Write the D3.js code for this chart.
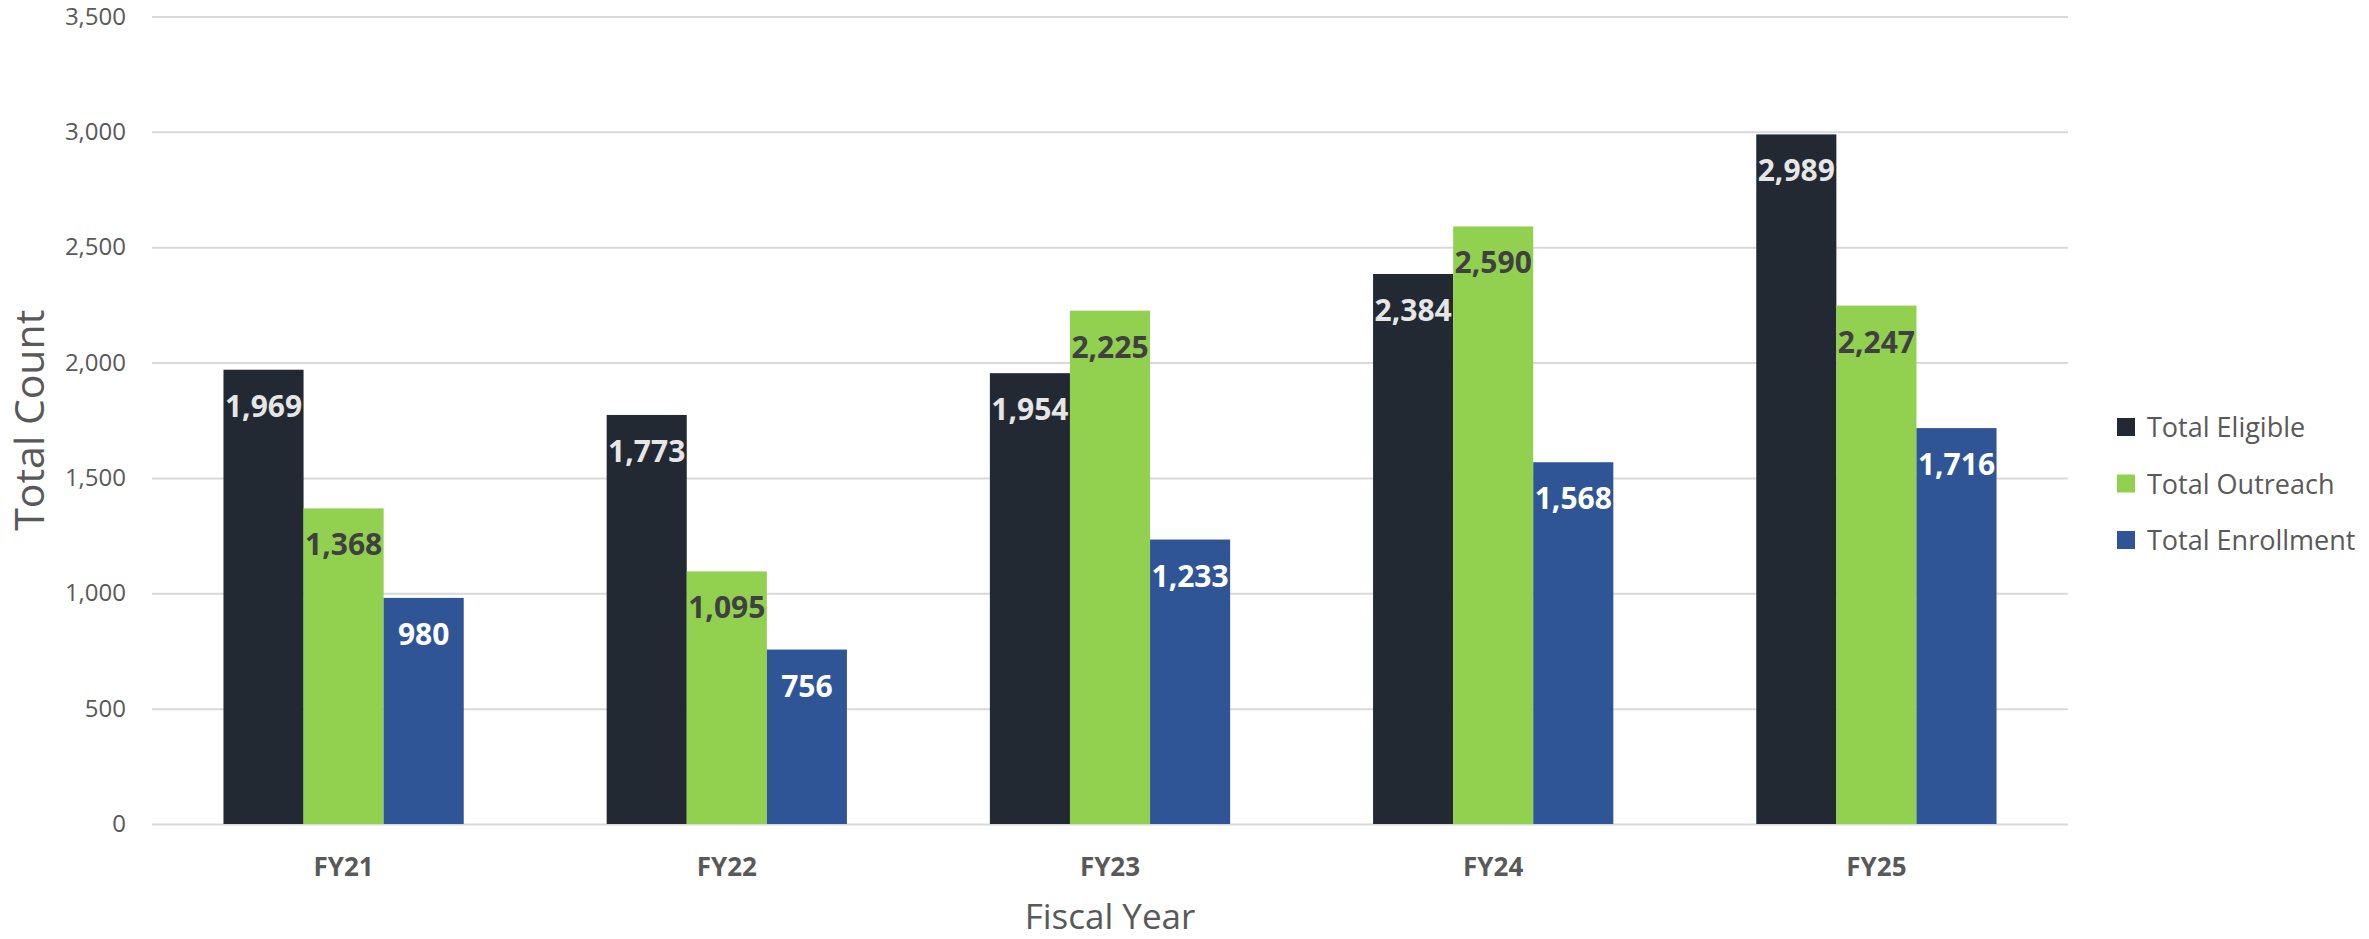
<!DOCTYPE html>
<html>
<head>
<meta charset="utf-8">
<script src="https://cdn.jsdelivr.net/npm/d3@7"></script>
<style>
  body { margin: 0; background: #fff; }
  text { font-family: "Open Sans", sans-serif; }
</style>
</head>
<body>
<div id="chart"></div>
<script>
var years = ["FY21", "FY22", "FY23", "FY24", "FY25"]
var seriesNames = ["Total Eligible", "Total Outreach", "Total Enrollment"]
var eligible = [1969, 1773, 1954, 2384, 2989]
var outreach = [1368, 1095, 2225, 2590, 2247]
var enrollment = [980, 756, 1233, 1568, 1716]
var yTicks = [0, 500, 1000, 1500, 2000, 2500, 3000, 3500]

var colors = ["#222933", "#92d050", "#2f5597"]
var labelColors = ["#e6e6e6", "#404040", "#ffffff"]
var allValues = [eligible, outreach, enrollment]

var width = 2369
var height = 939
var plotLeft = 152, plotRight = 2068, plotTop = 16.5, plotBottom = 824

var svg = d3.select("#chart").append("svg")
    .attr("width", width)
    .attr("height", height)

var y = d3.scaleLinear().domain([0, 3500]).range([plotBottom, plotTop])
var x = d3.scaleBand().domain(years).range([plotLeft, plotRight])
    .paddingInner(0.373).paddingOuter(0.1865)
var xs = d3.scaleBand().domain(seriesNames).range([0, x.bandwidth()])

// gridlines + y tick labels
var yAxis = svg.append("g")
    .attr("transform", "translate(" + plotLeft + ",0)")
    .call(d3.axisLeft(y).tickValues(yTicks).tickFormat(d3.format(",")).tickSize(-(plotRight - plotLeft)).tickPadding(26))
yAxis.select(".domain").remove()
yAxis.selectAll(".tick line").attr("stroke", "#d9d9d9").attr("stroke-width", 2)
yAxis.selectAll(".tick text")
    .attr("fill", "#595959")
    .style("font-size", "24px")
    .style("font-family", "'Open Sans', sans-serif")

// bars
var groups = svg.selectAll(".year").data(years).enter().append("g")
    .attr("class", "year")
    .attr("transform", function(d) { return "translate(" + x(d) + ",0)" })

seriesNames.forEach(function(name, si) {
    groups.append("rect")
        .attr("x", xs(name))
        .attr("width", xs.bandwidth())
        .attr("y", function(d, i) { return y(allValues[si][i]) })
        .attr("height", function(d, i) { return y(0) - y(allValues[si][i]) })
        .attr("fill", colors[si])
    groups.append("text")
        .attr("x", xs(name) + xs.bandwidth() / 2)
        .attr("y", function(d, i) { return y(allValues[si][i]) + 47 })
        .attr("text-anchor", "middle")
        .attr("fill", labelColors[si])
        .style("font-size", "30px")
        .style("font-weight", "bold")
        .text(function(d, i) { return d3.format(",")(allValues[si][i]) })
})

// category labels
svg.append("g").selectAll("text").data(years).enter().append("text")
    .attr("x", function(d) { return x(d) + x.bandwidth() / 2 })
    .attr("y", 876)
    .attr("text-anchor", "middle")
    .attr("fill", "#595959")
    .style("font-size", "26px")
    .style("font-weight", "bold")
    .text(function(d) { return d })

// axis titles
svg.append("text")
    .attr("x", (plotLeft + plotRight) / 2)
    .attr("y", 929)
    .attr("text-anchor", "middle")
    .attr("fill", "#595959")
    .style("font-size", "35px")
    .text("Fiscal Year")
svg.append("text")
    .attr("transform", "translate(44," + ((plotTop + plotBottom) / 2) + ") rotate(-90)")
    .attr("text-anchor", "middle")
    .attr("fill", "#595959")
    .style("font-size", "41px")
    .text("Total Count")

// legend
var legend = svg.append("g").selectAll("g").data(seriesNames).enter().append("g")
    .attr("transform", function(d, i) { return "translate(2117," + (427 + i * 56.5) + ")" })
legend.append("rect")
    .attr("x", 0).attr("y", -9)
    .attr("width", 18).attr("height", 18)
    .attr("fill", function(d, i) { return colors[i] })
legend.append("text")
    .attr("x", 30)
    .attr("y", 10)
    .attr("fill", "#595959")
    .style("font-size", "27px")
    .text(function(d) { return d })
</script>
</body>
</html>
